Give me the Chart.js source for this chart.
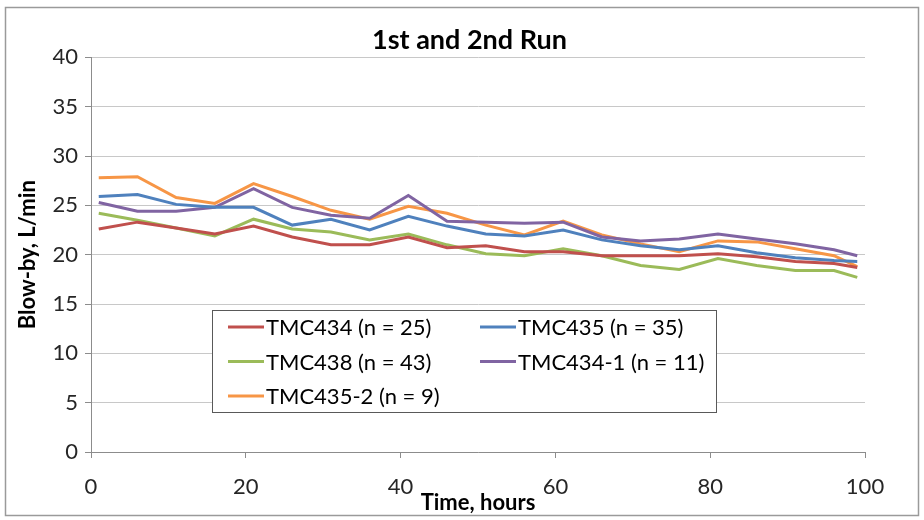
<!DOCTYPE html>
<html>
<head>
<meta charset="utf-8">
<script src="https://cdn.jsdelivr.net/npm/chart.js@4"></script>
<style>
  html, body { margin: 0; padding: 0; background: #fff; }
  #wrap { width: 924px; height: 520px; }
</style>
</head>
<body>
<div id="wrap"><canvas id="grafico" width="924" height="520"></canvas></div>
<script>
const horas = [1, 6, 11, 16, 21, 26, 31, 36, 41, 46, 51, 56, 61, 66, 71, 76, 81, 86, 91, 96, 99];

const tmc434 = [22.6, 23.3, 22.7, 22.1, 22.9, 21.8, 21.0, 21.0, 21.8, 20.7, 20.9, 20.3, 20.3, 19.9, 19.9, 19.9, 20.1, 19.8, 19.3, 19.1, 18.7];
const tmc435 = [25.9, 26.1, 25.1, 24.8, 24.8, 23.0, 23.6, 22.5, 23.9, 22.9, 22.1, 21.9, 22.5, 21.5, 20.9, 20.5, 20.9, 20.2, 19.7, 19.4, 19.3];
const tmc438 = [24.2, 23.5, 22.7, 21.9, 23.6, 22.6, 22.3, 21.5, 22.1, 21.0, 20.1, 19.9, 20.6, 19.9, 18.9, 18.5, 19.6, 18.9, 18.4, 18.4, 17.7];
const tmc434_1 = [25.3, 24.4, 24.4, 24.8, 26.7, 24.8, 24.0, 23.7, 26.0, 23.4, 23.3, 23.2, 23.3, 21.8, 21.4, 21.6, 22.1, 21.6, 21.1, 20.5, 19.9];
const tmc435_2 = [27.8, 27.9, 25.8, 25.2, 27.2, 25.9, 24.5, 23.6, 24.9, 24.2, 23.0, 22.0, 23.4, 22.0, 21.1, 20.3, 21.4, 21.3, 20.6, 19.9, 18.8];

const rotulos = ['TMC434 (n = 25)', 'TMC435 (n = 35)', 'TMC438 (n = 43)', 'TMC434-1 (n = 11)', 'TMC435-2 (n = 9)'];
const cores = ['#C0504D', '#4F81BD', '#9BBB59', '#8064A2', '#F79646'];
const series = [tmc434, tmc435, tmc438, tmc434_1, tmc435_2];

const fonte = 'Lato, "Open Sans", sans-serif';
Chart.defaults.font.family = fonte;
Chart.defaults.color = '#262626';

// moldura cinza e fundo branco
const moldura = {
    id: 'moldura',
    beforeDraw(chart) {
        const ctx = chart.ctx;
        ctx.save();
        ctx.fillStyle = '#fff';
        ctx.fillRect(0, 0, chart.width, chart.height);
        ctx.strokeStyle = '#9a9a9a';
        ctx.lineWidth = 1.5;
        ctx.strokeRect(5.5, 7.5, 913, 508);
        ctx.restore();
    }
};

// legenda dentro da area do grafico
const legendaInterna = {
    id: 'legendaInterna',
    afterDatasetsDraw(chart) {
        const ctx = chart.ctx;
        const box = { x: 212, y: 310, w: 504, h: 102 };
        ctx.save();
        ctx.fillStyle = '#fff';
        ctx.fillRect(box.x, box.y, box.w, box.h);
        ctx.strokeStyle = '#595959';
        ctx.lineWidth = 1;
        ctx.strokeRect(box.x + 0.5, box.y + 0.5, box.w, box.h);
        ctx.font = '22px ' + fonte;
        ctx.textBaseline = 'middle';
        ctx.fillStyle = '#000';
        chart.data.datasets.forEach((ds, i) => {
            const col = i % 2;
            const row = Math.floor(i / 2);
            const x0 = box.x + 16 + col * 252;
            const y0 = box.y + 17 + row * 34.5;
            ctx.strokeStyle = ds.borderColor;
            ctx.lineWidth = 3;
            ctx.beginPath();
            ctx.moveTo(x0, y0);
            ctx.lineTo(x0 + 36, y0);
            ctx.stroke();
            ctx.fillText(ds.label, x0 + 38, y0 + 1);
        });
        ctx.restore();
    }
};

const ctx = document.getElementById('grafico').getContext('2d');
const grafico = new Chart(ctx, {
    type: 'line',
    data: {
        labels: horas,
        datasets: series.map((s, i) => ({
            label: rotulos[i],
            data: horas.map((h, j) => ({ x: h, y: s[j] })),
            borderColor: cores[i],
            backgroundColor: cores[i],
            borderWidth: 3,
            pointRadius: 0,
            tension: 0,
            fill: false
        }))
    },
    options: {
        responsive: false,
        animation: false,
        layout: { padding: { left: 15, right: 0, top: 0, bottom: 4 } },
        plugins: {
            legend: { display: false },
            tooltip: { enabled: false },
            title: {
                display: true,
                text: '1st and 2nd Run',
                color: '#000',
                font: { size: 27, weight: 'bold' },
                padding: { top: 24, bottom: 1 }
            }
        },
        scales: {
            x: {
                type: 'linear',
                min: 0,
                max: 100,
                afterFit(scale) { scale.height = 64; },
                ticks: { stepSize: 20, font: { size: 22 }, color: '#262626', padding: 16 },
                grid: { drawOnChartArea: false, drawTicks: true, tickLength: 6, color: '#8c8c8c' },
                border: { color: '#8c8c8c' },
                title: { display: true, text: 'Time, hours', color: '#000', font: { size: 22, weight: 'bold' }, padding: { top: 0, bottom: 0 } }
            },
            y: {
                min: 0,
                max: 40,
                afterFit(scale) { scale.width = 76; },
                ticks: { stepSize: 5, font: { size: 22 }, color: '#262626', padding: 7 },
                grid: { color: '#c8c8c8', tickLength: 6, tickColor: '#8c8c8c' },
                border: { color: '#8c8c8c' },
                title: { display: true, text: 'Blow-by, L/min', color: '#000', font: { size: 22, weight: 'bold' }, padding: { top: 0, bottom: 0 } }
            },
            margemDireita: {
                type: 'linear',
                position: 'right',
                afterFit(scale) { scale.width = 59; },
                grid: { display: false },
                ticks: { display: false },
                border: { display: false }
            }
        }
    },
    plugins: [moldura, legendaInterna]
});
</script>
</body>
</html>
